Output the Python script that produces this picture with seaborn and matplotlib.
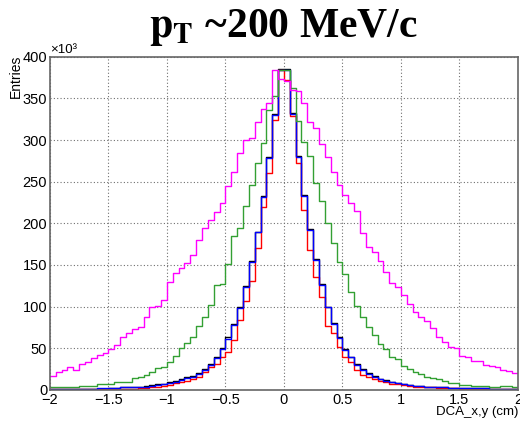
import matplotlib
matplotlib.use("Agg")
import matplotlib.pyplot as plt
from matplotlib.ticker import MultipleLocator
import seaborn as sns
import numpy as np
import pandas as pd

# DCA_x,y histograms, 80 bins of 0.05 cm from -2 to 2, entries in units of 10^3
bin_edges = list(np.round(np.linspace(-2, 2, 81), 3))

magenta_counts = [17, 21, 24, 27, 24, 31, 34, 38, 42, 44,
                  49, 54, 63, 68, 73, 76, 87, 99, 101, 108,
                  129, 140, 146, 152, 162, 180, 194, 204, 214, 224,
                  245, 262, 285, 300, 302, 322, 337, 345, 384, 373,
                  371, 360, 359, 345, 322, 315, 295, 280, 262, 246,
                  234, 224, 215, 188, 172, 166, 155, 141, 128, 123,
                  114, 103, 93, 88, 83, 74, 63, 58, 52, 50,
                  41, 39, 35, 35, 30, 29, 28, 24, 23, 20]

green_counts = [4, 4, 4, 4, 4, 5, 5, 5, 7, 7,
                7, 9, 10, 10, 14, 16, 18, 21, 26, 28,
                33, 41, 50, 56, 63, 77, 87, 102, 126, 127,
                151, 185, 194, 221, 246, 273, 296, 336, 353, 384,
                384, 362, 323, 298, 281, 249, 227, 200, 176, 153,
                139, 118, 101, 88, 75, 66, 55, 49, 40, 37,
                29, 25, 21, 19, 15, 14, 13, 11, 8, 8,
                6, 6, 5, 5, 5, 4, 4, 5, 5, 3]

black_counts = [1, 1, 1, 1, 1, 1.5, 1.5, 1.5, 1.5, 1.5,
                2, 2.5, 3, 3, 3.5, 4, 4.5, 5.5, 6.5, 7.5,
                9, 11, 13, 15, 17, 20, 25, 31, 39, 50,
                63, 79, 99, 125, 155, 190, 233, 280, 331, 385,
                385, 332, 281, 234, 193, 157, 127, 100, 80, 63,
                49, 40, 31, 25, 20, 16.5, 13.5, 11.5, 9.5, 8.5,
                7, 6, 5, 4.5, 4, 3.5, 3, 3, 2.5, 2.5,
                2, 2, 2, 2, 2, 1.5, 1.5, 1.5, 1.5, 1.5]

red_counts = [1, 1, 1, 1, 1, 1, 1, 1, 1, 1,
              1.5, 1.5, 1.5, 1.5, 1.5, 2, 2.5, 3, 4, 5,
              6, 8, 9, 11, 13, 16, 21, 27, 31, 39,
              45, 60, 84, 107, 131, 170, 220, 261, 324, 384,
              372, 329, 273, 216, 168, 135, 111, 77, 68, 52,
              40, 33, 24, 18, 15, 13, 11, 9, 7.5, 6.5,
              6, 5, 4, 4, 3.5, 3, 2.5, 2.5, 2, 2,
              1.5, 1.5, 1.5, 1.5, 1.5, 1, 1, 1, 1, 1]

blue_counts = [1, 1, 1, 1, 1, 1.5, 1.5, 1.5, 2, 2,
               2, 2.5, 3, 3, 3, 4, 4, 5, 6, 7,
               8, 10, 12, 14, 16, 19, 24, 30, 38, 49,
               61, 78, 98, 124, 154, 189, 232, 279, 330, 384,
               384, 331, 280, 233, 192, 156, 126, 99, 79, 62,
               48, 39, 30, 24, 19, 16, 13, 11, 9, 8,
               7, 6, 5, 4.5, 4, 3.5, 3, 3, 2.5, 2.5,
               2, 2, 2, 2, 2, 1.5, 1.5, 1.5, 1.5, 1.5]

series = [("black", black_counts), ("#ff0000", red_counts), ("#0000ff", blue_counts),
          ("#33a033", green_counts), ("#ff00ff", magenta_counts)]

sns.set_theme(style="white")
plt.rcParams['font.family'] = ['Liberation Sans', 'DejaVu Sans']
plt.rcParams['text.color'] = 'black'
plt.rcParams['axes.labelcolor'] = 'black'

fig = plt.figure(figsize=(5.2, 4.21), dpi=100)
ax = fig.add_axes([0.096, 0.074, 0.9, 0.791])

centers = [(a + b) / 2 for a, b in zip(bin_edges[:-1], bin_edges[1:])]
for color, counts in series:
    df = pd.DataFrame({"dca": centers, "entries": counts})
    sns.histplot(data=df, x="dca", weights="entries", bins=bin_edges, element="step",
                 fill=False, color=color, linewidth=1.0, ax=ax)

ax.set_xlim(-2, 2)
ax.set_ylim(0, 400)
ax.xaxis.set_major_locator(MultipleLocator(0.5))
ax.xaxis.set_minor_locator(MultipleLocator(0.1))
ax.yaxis.set_major_locator(MultipleLocator(50))
ax.yaxis.set_minor_locator(MultipleLocator(10))
ax.set_xticks([-2, -1.5, -1, -0.5, 0, 0.5, 1, 1.5, 2])
ax.set_xticklabels(['\u22122', '\u22121.5', '\u22121', '\u22120.5', '0', '0.5', '1', '1.5', '2'])
ax.tick_params(which='major', direction='in', length=6, width=1.0, color='#555555',
               labelsize=10.5, labelcolor='black', pad=2)
ax.tick_params(which='minor', direction='in', length=3, width=0.8, color='#555555')
ax.tick_params(axis='x', which='major', length=7, pad=2)
ax.tick_params(axis='x', which='minor', length=4)
ax.grid(True, which='major', linestyle=(0, (1, 2)), color='#707070', linewidth=0.8)

for side in ['left', 'bottom', 'top', 'right']:
    ax.spines[side].set_color('#666666')
    ax.spines[side].set_linewidth(1.2)

ax.set_ylabel('Entries', loc='top', fontsize=10)
ax.yaxis.set_label_coords(-0.058, 1.008)
ax.set_xlabel('DCA_x,y (cm)', loc='right', fontsize=9.5)
ax.xaxis.set_label_coords(1.0, -0.05)

fig.text(50 / 520, 1 - 53 / 421, '\u00d710\u00b3', fontsize=9.5, ha='left', va='baseline')

fig.text(0.545, 1 - 37 / 421, r'$\mathbf{p_{T}}$ ~200 MeV/c', fontsize=30,
         fontweight='bold', family='Liberation Serif', math_fontfamily='stix',
         color='black', ha='center', va='baseline')

fig.savefig('out.png', dpi=100)
